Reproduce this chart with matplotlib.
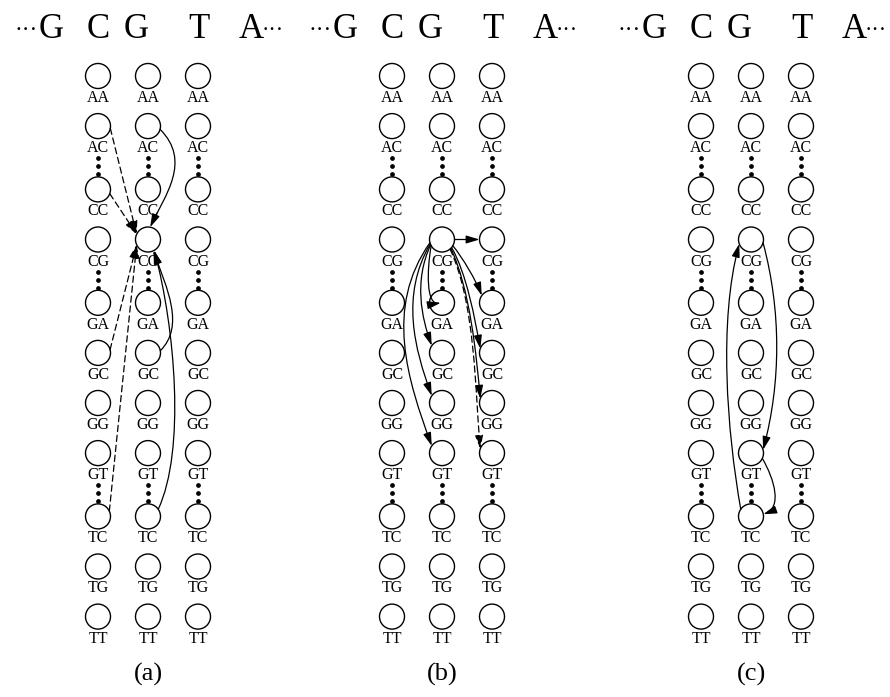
import matplotlib

matplotlib.use("Agg")

import numpy as np
import matplotlib.pyplot as plt
from matplotlib.patches import Circle, FancyArrowPatch
from matplotlib.path import Path

# --- diagram content -------------------------------------------------------
STATES = ["AA", "AC", "CC", "CG", "GA", "GC", "GG", "GT", "TC", "TG", "TT"]
GAP_AFTER = ["AC", "CG", "GT"]          # "..." between these and the next row
SEQUENCE = ["G", "C", "G", "T", "A"]
PANEL_LABELS = ["(a)", "(b)", "(c)"]

# edges: (src column, src state, dst column, dst state, dashed)
EDGES_A = [
    (0, "AC", 1, "CG", True),
    (0, "CC", 1, "CG", True),
    (0, "GC", 1, "CG", True),
    (0, "TC", 1, "CG", True),
    (1, "AC", 1, "CG", False),
    (1, "GC", 1, "CG", False),
    (1, "TC", 1, "CG", False),
]
EDGES_B = [
    (1, "CG", 2, "CG", False),
    (1, "CG", 2, "GA", False),
    (1, "CG", 2, "GC", False),
    (1, "CG", 2, "GG", False),
    (1, "CG", 2, "GT", True),
    (1, "CG", 1, "GA", False),
    (1, "CG", 1, "GC", False),
    (1, "CG", 1, "GG", False),
    (1, "CG", 1, "GT", False),
]
EDGES_C = [
    (1, "CG", 1, "GT", False),
    (1, "GT", 1, "TC", False),
    (1, "TC", 1, "CG", False),
]

# --- layout (pixels, y down) -------------------------------------------------
W, H = 890, 697
R = 12.5
PANEL_X0 = [0, 294, 603]
COL_DX = [98, 148, 198]
ROW_Y0, ROW_STEP, ROW_GAP = 76, 50.1, 13.2
SEQ_DX = [51, 98, 136, 199, 251]

# curve shape for each edge: start angle, end angle on the circles,
# out tangent angle/handle, in tangent angle/handle, end radius fraction
GEOM_A = [
    (10, 205, None, 0, None, 0, 1),
    (20, 205, None, 0, None, 0, 1),
    (-15, 155, None, 0, None, 0, 1),
    (-25, 155, None, 0, None, 0, 1),
    (15, -80, 45, 45, 115, 35, 1),
    (-10, 65, -45, 35, 250, 40, 1),
    (-35, 60, -65, 65, 255, 80, 1),
]
GEOM_B = [
    (0, 180, None, 0, None, 0, 1),
    (30, 215, 50, 15, 70, 15, 1),
    (40, 200, 60, 30, 80, 30, 1),
    (45, 200, 65, 45, 85, 45, 1),
    (50, 200, 65, 60, 85, 60, 1),
    (150, 180, 100, 25, -10, 15, 0.1),
    (155, 215, 115, 40, 70, 30, 1),
    (160, 215, 120, 60, 70, 50, 1),
    (165, 215, 125, 80, 70, 70, 1),
]
GEOM_C = [
    (15, -15, 75, 70, 105, 70, 1),
    (25, -10, 60, 25, 160, 20, 1),
    (215, 160, 260, 80, 285, 80, 1),
]

SERIF = "Liberation Serif"
ELLIPSIS = "\u00b7\u00b7\u00b7"

row_y = {}
y = ROW_Y0
for s in STATES:
    row_y[s] = y
    y += ROW_STEP + (ROW_GAP if s in GAP_AFTER else 0)


def unit(deg):
    a = np.deg2rad(deg)
    return np.array([np.cos(a), np.sin(a)])


def node(panel, col, state):
    return np.array([PANEL_X0[panel] + COL_DX[col], row_y[state]])


fig = plt.figure(figsize=(W / 100, H / 100), dpi=100)
ax = fig.add_axes([0, 0, 1, 1])
ax.set_xlim(0, W)
ax.set_ylim(H, 0)
ax.set_aspect("equal")
ax.axis("off")

for p in range(3):
    x0 = PANEL_X0[p]
    # sequence on top, with the "..." on both ends
    for i, ch in enumerate(SEQUENCE):
        ax.text(x0 + SEQ_DX[i], 38, ch, ha="center", va="baseline",
                fontsize=25, family=SERIF)
    ax.text(x0 + SEQ_DX[0] - 13, 36, ELLIPSIS, ha="right", va="baseline",
            fontsize=17, family=SERIF)
    ax.text(x0 + SEQ_DX[-1] + 11, 36, ELLIPSIS, ha="left", va="baseline",
            fontsize=16, family=SERIF)

    # state nodes
    for c in range(3):
        for s in STATES:
            cx, cy = node(p, c, s)
            ax.add_patch(Circle((cx, cy), R, facecolor="white",
                                edgecolor="black", lw=1.0, zorder=2))
            ax.text(cx, cy + 26, s, ha="center", va="baseline",
                    fontsize=11.5, family=SERIF, zorder=2.5)
            if s in GAP_AFTER:
                ax.plot([cx] * 3, [cy + 32, cy + 40, cy + 48], "o",
                        color="black", ms=2.4, zorder=2)

    ax.text(x0 + COL_DX[1], 681, PANEL_LABELS[p], ha="center",
            va="baseline", fontsize=19, family=SERIF)


def draw_edge(panel, edge, geom):
    c0, s0, c1, s1, dashed = edge
    a0, a1, t0, h0, t1, h1, f1 = geom
    p0 = node(panel, c0, s0) + R * unit(a0)
    p3 = node(panel, c1, s1) + R * f1 * unit(a1)
    if t0 is None:
        d = p3 - p0
        q1, q2 = p0 + d / 3, p0 + 2 * d / 3
    else:
        q1 = p0 + h0 * unit(t0)
        q2 = p3 - h1 * unit(t1)
    path = Path([p0, q1, q2, p3],
                [Path.MOVETO, Path.CURVE4, Path.CURVE4, Path.CURVE4])
    arr = FancyArrowPatch(path=path,
                          arrowstyle="-|>,head_length=0.8,head_width=0.24",
                          mutation_scale=10, lw=0.9, color="black",
                          linestyle=(0, (5, 3)) if dashed else "-",
                          zorder=3)
    ax.add_patch(arr)


for p, (edges, geoms) in enumerate([(EDGES_A, GEOM_A), (EDGES_B, GEOM_B),
                                     (EDGES_C, GEOM_C)]):
    for e, g in zip(edges, geoms):
        draw_edge(p, e, g)

fig.savefig("out.png", dpi=100, facecolor="white")
